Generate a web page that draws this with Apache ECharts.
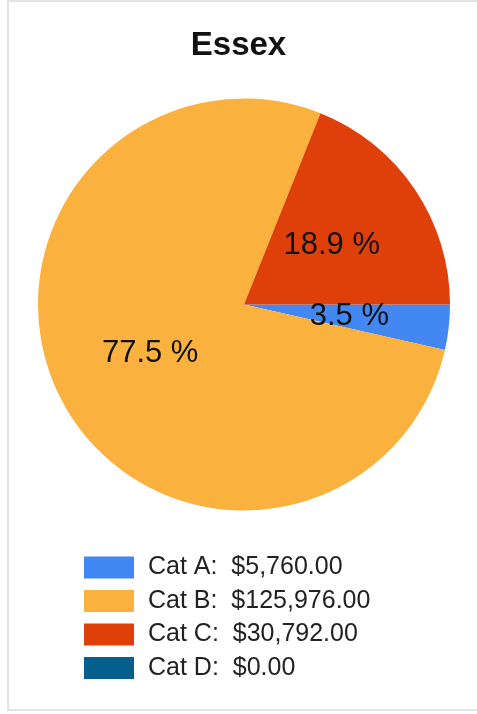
<!DOCTYPE html>
<html>
<head>
<meta charset="utf-8">
<script src="https://cdn.jsdelivr.net/npm/echarts@6/dist/echarts.min.js"></script>
<style>
  html, body { margin: 0; padding: 0; background: #fff; }
  #frame { position: absolute; left: 7px; top: 0; width: 470px; height: 711px;
           border-top: 2px solid #e3e3e3; border-left: 2px solid #e3e3e3; border-bottom: 2px solid #e3e3e3;
           box-sizing: border-box; }
  #Chart { position: absolute; left: 0; top: 0; width: 477px; height: 714px; }
</style>
</head>
<body>
<div id="frame"></div>
<div id="Chart"></div>
<script>
// 数据
var categories = ["Cat A", "Cat B", "Cat C", "Cat D"];
var amounts = [5760, 125976, 30792, 0];
var colors = ["#4387f2", "#fbb13d", "#df400a", "#045f8c"];

var total = 0;
for (var i = 0; i < amounts.length; i++) total += amounts[i];

function money(v) {
    return "$" + v.toFixed(2).replace(/\B(?=(\d{3})+(?!\d))/g, ",");
}

var pieData = categories.map(function (name, i) {
    return { name: name, value: amounts[i], itemStyle: { color: colors[i] } };
});

var myChart = echarts.init(document.getElementById("Chart"));
var option = {
    animation: false,
    title: {
        text: "Essex",
        left: 'center',
        top: 24,
        textStyle: {
            fontFamily: "Liberation Sans, Arial",
            fontSize: 33,
            fontWeight: 'bold',
            color: '#111'
        }
    },
    legend: {
        orient: 'vertical',
        left: 84,
        top: 555,
        padding: 0,
        itemWidth: 50,
        itemHeight: 22,
        itemGap: 8.5,
        icon: 'rect',
        selectedMode: false,
        formatter: function (name) {
            var idx = categories.indexOf(name);
            return name + ":  " + money(amounts[idx]);
        },
        textStyle: {
            fontFamily: "Liberation Sans, Arial",
            fontSize: 25,
            color: '#222',
            padding: [0, 0, 0, 9]
        },
        data: categories
    },
    series: [
        {
            type: 'pie',
            center: [244, 304.5],
            radius: 206,
            startAngle: 0,
            clockwise: true,
            emphasis: { disabled: true },
            label: {
                show: true,
                position: 'inside',
                fontFamily: "Liberation Sans, Arial",
                fontSize: 31,
                color: '#111',
                formatter: function (p) {
                    if (!p.value) return '';
                    return (p.value / total * 100).toFixed(1) + " %";
                }
            },
            labelLine: { show: false },
            data: pieData
        }
    ]
};
myChart.setOption(option);
window.addEventListener("resize", function () {
    myChart.resize();
});
</script>
</body>
</html>
